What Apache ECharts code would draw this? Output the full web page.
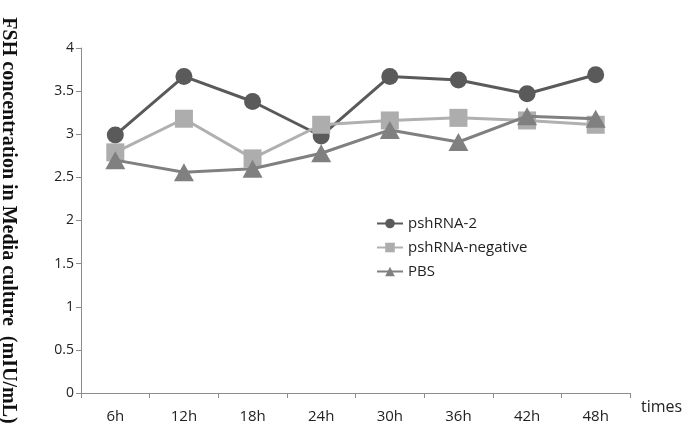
<!DOCTYPE html>
<html>
<head>
<meta charset="utf-8">
<script src="https://cdn.jsdelivr.net/npm/echarts@6/dist/echarts.min.js"></script>
<style>html,body{margin:0;padding:0;background:#fff;}#c{width:689px;height:434px;}</style>
</head>
<body>
<div id="c"></div>
<script>
const categories = ['6h','12h','18h','24h','30h','36h','42h','48h'];
const pshRNA2 = [2.99, 3.67, 3.38, 2.98, 3.67, 3.63, 3.47, 3.69];
const pshRNAneg = [2.79, 3.18, 2.72, 3.11, 3.16, 3.19, 3.16, 3.11];
const pbs = [2.70, 2.56, 2.60, 2.78, 3.05, 2.91, 3.21, 3.18];
const yTicks = {min: 0, max: 4, interval: 0.5};

const chart = echarts.init(document.getElementById('c'));
const sans = 'Open Sans';
chart.setOption({
  animation: false,
  grid: {left: 81, right: 59, top: 48, bottom: 41, containLabel: false, outerBoundsMode: 'none'},
  legend: {
    orient: 'vertical', left: 371, top: 211, itemWidth: 26, itemHeight: 12, itemGap: 9,
    textStyle: {fontFamily: sans, fontSize: 15, color: '#222'},
    data: ['pshRNA-2','pshRNA-negative','PBS']
  },
  xAxis: {
    type: 'category', data: categories, boundaryGap: true,
    name: 'times', nameLocation: 'end', nameGap: 11,
    nameTextStyle: {fontFamily: sans, fontSize: 16, color: '#222', verticalAlign: 'top', padding: [6,0,0,0]},
    axisLine: {lineStyle: {color: '#8c8c8c', width: 1}},
    axisTick: {show: true, length: 5, lineStyle: {color: '#8c8c8c'}},
    axisLabel: {fontFamily: sans, fontSize: 15, color: '#222', margin: 16}
  },
  yAxis: {
    type: 'value', min: yTicks.min, max: yTicks.max, interval: yTicks.interval,
    name: 'FSH concentration in Media culture  (mIU/mL)', nameLocation: 'middle', nameRotate: -90, nameGap: 63,
    nameTextStyle: {fontFamily: 'Liberation Serif', fontWeight: 'bold', fontSize: 20, color: '#111'},
    splitLine: {show: false},
    axisLine: {show: true, lineStyle: {color: '#8c8c8c', width: 1}},
    axisTick: {show: true, length: 5, lineStyle: {color: '#8c8c8c'}},
    axisLabel: {fontFamily: sans, fontSize: 14, color: '#222', margin: 7}
  },
  series: [
    {name: 'pshRNA-2', type: 'line', data: pshRNA2, symbol: 'circle', symbolSize: 17,
     z: 3, lineStyle: {color: '#5a5a5a', width: 3}, itemStyle: {color: '#5a5a5a'}},
    {name: 'pshRNA-negative', type: 'line', data: pshRNAneg, symbol: 'rect', symbolSize: 18,
     z: 4, lineStyle: {color: '#b0b0b0', width: 3}, itemStyle: {color: '#adadad'}},
    {name: 'PBS', type: 'line', data: pbs, symbol: 'triangle', symbolSize: [20, 18],
     z: 5, lineStyle: {color: '#808080', width: 3}, itemStyle: {color: '#808080'}}
  ]
});
</script>
</body>
</html>
